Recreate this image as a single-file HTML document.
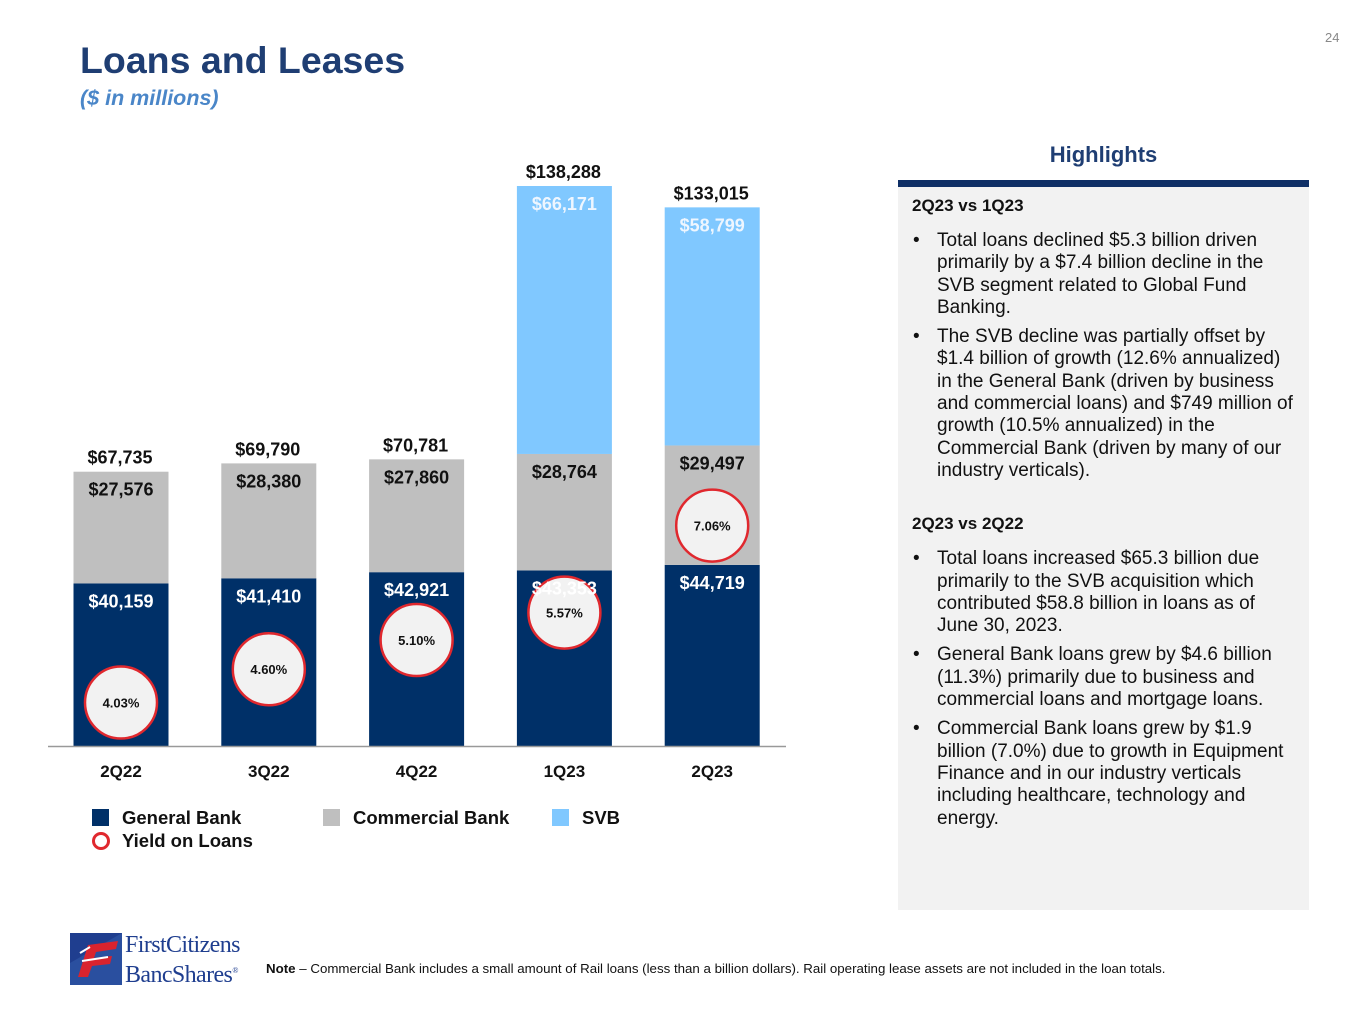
<!DOCTYPE html>
<html><head><meta charset="utf-8"><style>
body{margin:0;width:1365px;height:1024px;background:#fff;font-family:"Liberation Sans",Arial,sans-serif;position:relative;overflow:hidden}
.a{position:absolute}
#panel ul{margin:0;padding:0 0 0 25px;list-style:none}
#panel li{position:relative;font-size:19px;line-height:22.3px;color:#111;margin-bottom:7px;white-space:nowrap}
#panel li:before{content:"•";position:absolute;left:-24px}
#panel h3{font-size:17px;margin:0 0 14px 0;font-weight:bold;color:#111}
</style></head><body>
<div class="a" style="left:1325px;top:30px;font-size:13px;color:#888">24</div>
<div class="a" style="left:80px;top:39px;font-size:37.5px;font-weight:bold;color:#1f3e73">Loans and Leases</div>
<div class="a" style="left:80px;top:86px;font-size:21.5px;font-weight:bold;font-style:italic;color:#4a86c8">($ in millions)</div>

<svg class="a" style="left:0;top:0" width="880" height="870" id="chart"></svg>

<div class="a" style="left:898px;width:411px;top:142px;text-align:center;font-size:22px;font-weight:bold;color:#1f3e73">Highlights</div>
<div class="a" style="left:898px;width:411px;top:180px;height:7px;background:#0f2f66"></div>
<div class="a" id="panel" style="left:898px;width:411px;top:187px;height:723px;background:#f2f2f2;box-sizing:border-box;padding:9px 10px 0 14px">
<h3>2Q23 vs 1Q23</h3>
<ul><li>Total loans declined $5.3 billion driven<br>primarily by a $7.4 billion decline in the<br>SVB segment related to Global Fund<br>Banking.</li>
<li>The SVB decline was partially offset by<br>$1.4 billion of growth (12.6% annualized)<br>in the General Bank (driven by business<br>and commercial loans) and $749 million of<br>growth (10.5% annualized) in the<br>Commercial Bank (driven by many of our<br>industry verticals).</li></ul>
<h3 style="margin-top:32px">2Q23 vs 2Q22</h3>
<ul><li>Total loans increased $65.3 billion due<br>primarily to the SVB acquisition which<br>contributed $58.8 billion in loans as of<br>June 30, 2023.</li>
<li>General Bank loans grew by $4.6 billion<br>(11.3%) primarily due to business and<br>commercial loans and mortgage loans.</li>
<li>Commercial Bank loans grew by $1.9<br>billion (7.0%) due to growth in Equipment<br>Finance and in our industry verticals<br>including healthcare, technology and<br>energy.</li></ul>
</div>

<div class="a" style="left:70px;top:932px;width:185px;height:54px">
<svg width="52" height="52" style="position:absolute;left:0;top:1px"><rect width="52" height="52" fill="#1f3e8f"/><polygon points="0,52 0,30 52,0 52,52" fill="#2a4f9f"/><path d="M8,44 L18,12 L48,8 L46,16 L26,19 L24,25 L42,23 L40,31 L22,33 L18,44Z" fill="#d9232e"/><path d="M10,20 L20,14 M12,28 L38,24" stroke="#fff" stroke-width="2"/></svg>
<div style="position:absolute;left:55px;top:1px;font-family:'Liberation Serif',serif;font-size:24px;line-height:25px;color:#1f3e8f;letter-spacing:-0.6px">FirstCitizens<br>BancShares<sup style="font-size:8px">®</sup></div>
</div>
<div class="a" style="left:266px;top:961px;font-size:13.3px;color:#111"><b>Note</b> – Commercial Bank includes a small amount of Rail loans (less than a billion dollars).  Rail operating lease assets are not included in the loan totals.</div>

<script>
const categories=["2Q22","3Q22","4Q22","1Q23","2Q23"];
const generalBank=[40159,41410,42921,43353,44719];
const commercialBank=[27576,28380,27860,28764,29497];
const svb=[0,0,0,66171,58799];
const totals=[67735,69790,70781,138288,133015];
const yields=[4.03,4.60,5.10,5.57,7.06];
const NS="http://www.w3.org/2000/svg";
const svg=document.getElementById('chart');
const base=746,k=560/138288;
const y=v=>base-v*k;
const xc=i=>121+i*147.8;
const yy=p=>630-(p-5.272)*58.4;
const fmt=v=>"$"+v.toLocaleString("en-US");
function mk(t,a){const e=document.createElementNS(NS,t);for(const n in a)e.setAttribute(n,a[n]);svg.appendChild(e);return e;}
function txt(x,yv,s,fill,size,name){const e=mk('text',{x:x,y:yv,'text-anchor':'middle',fill:fill,'font-size':size,'font-weight':'bold','font-family':'Liberation Sans, Arial, sans-serif'});e.textContent=s;


return e;}
const labels=[];
categories.forEach((c,i)=>{
 const segs=[[generalBank[i],'#003068','#fff','general-bank-bar'],[commercialBank[i],'#bfbfbf','#111','commercial-bank-bar'],[svb[i],'#80c8ff','#eef6ff','svb-bar']];
 let acc=0;
 segs.forEach(s=>{if(!s[0])return;const t=y(acc+s[0]),b=y(acc);
  const r=mk('rect',{x:xc(i)-47.5,y:t,width:95,height:b-t,fill:s[1]});
  
  
  labels.push([xc(i),t+24,fmt(s[0]),s[2]]);acc+=s[0];});
 txt(xc(i)-1,y(totals[i])-8,fmt(totals[i]),'#111',18,'total-label');
 txt(xc(i),777,c,'#111',17,'category-label');
});
categories.forEach((c,i)=>{
 const cy=yy(yields[i]);
 const ci=mk('circle',{cx:xc(i),cy:cy,r:36,fill:'#f2f2f2',stroke:'#e0282e','stroke-width':2.5});
 
 
 txt(xc(i),cy+5,yields[i].toFixed(2)+'%','#111',13,'yield-label');
});
labels.forEach(l=>txt(l[0],l[1],l[2],l[3],18,'segment-label'));
const ax=mk('line',{x1:48,x2:786,y1:746.5,y2:746.5,stroke:'#999','stroke-width':1.5});


const leg=[[106,817,'#003068','General Bank'],[337,817,'#bfbfbf','Commercial Bank'],[566,817,'#80c8ff','SVB']];
leg.forEach(l=>{const r=mk('rect',{x:l[0]-14,y:l[1]-8,width:17,height:17,fill:l[2]});
 
 
 const t=txt(0,l[1]+7,l[3],'#111',18.5,'legend-entry');t.setAttribute('text-anchor','start');t.setAttribute('x',l[0]+16);});
const lc=mk('circle',{cx:101,cy:841,r:7.5,fill:'#fff',stroke:'#e0282e','stroke-width':3});


const lt=txt(0,847,'Yield on Loans','#111',18.5,'legend-entry');lt.setAttribute('text-anchor','start');lt.setAttribute('x',122);
</script>
</body></html>
